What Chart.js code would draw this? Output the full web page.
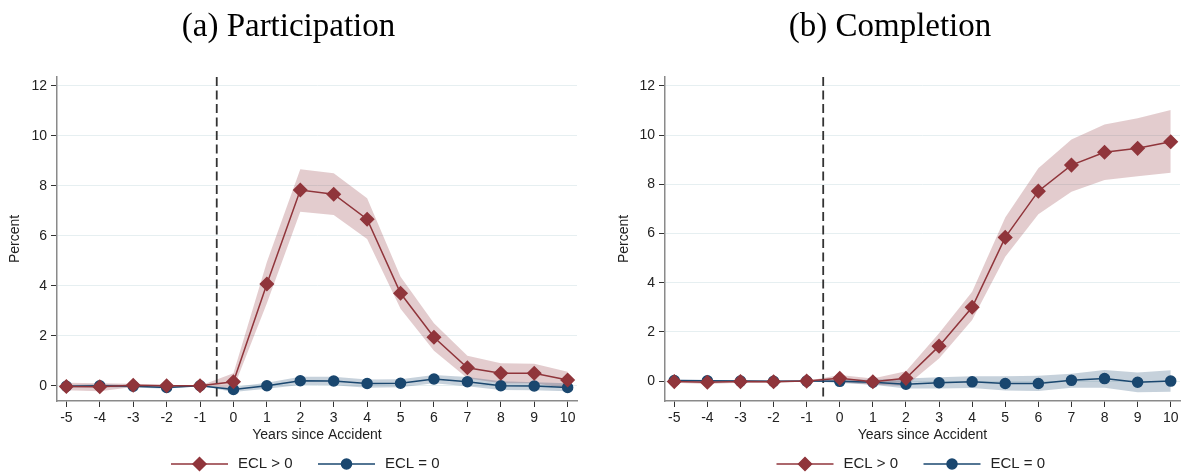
<!DOCTYPE html>
<html>
<head>
<meta charset="utf-8">
<script src="https://cdn.jsdelivr.net/npm/chart.js@4"></script>
<style>
  body { margin: 0; background: #fff; }
  #wrap { display: flex; width: 1188px; height: 475px; }
  canvas { display: block; }
</style>
</head>
<body>
<div id="wrap">
  <canvas id="partChart" width="594" height="475"></canvas>
  <canvas id="compChart" width="594" height="475"></canvas>
</div>
<script>
// 事故前后年份
var years = [-5, -4, -3, -2, -1, 0, 1, 2, 3, 4, 5, 6, 7, 8, 9, 10];
var accidentLine = -0.5;
var legendLabels = ['ECL > 0', 'ECL = 0'];

// (a) Participation
var partPos   = [-0.03, -0.04, 0.02, 0.00, 0.00, 0.16, 4.07, 7.83, 7.66, 6.66, 3.70, 1.94, 0.72, 0.50, 0.50, 0.23];
var partPosHi = [0.12, 0.10, 0.08, 0.04, 0.00, 0.50, 4.95, 8.66, 8.50, 7.50, 4.36, 2.50, 1.20, 0.90, 0.88, 0.56];
var partPosLo = [-0.18, -0.22, -0.05, -0.04, 0.00, -0.10, 3.30, 6.96, 6.83, 5.87, 3.08, 1.40, 0.30, 0.10, 0.10, -0.10];
var partZero   = [-0.02, 0.00, -0.02, -0.07, 0.00, -0.15, 0.00, 0.20, 0.19, 0.09, 0.10, 0.27, 0.16, 0.00, -0.01, -0.07];
var partZeroHi = [0.03, 0.06, 0.03, -0.02, 0.00, -0.05, 0.12, 0.36, 0.36, 0.25, 0.26, 0.43, 0.35, 0.18, 0.14, 0.10];
var partZeroLo = [-0.07, -0.06, -0.07, -0.12, 0.00, -0.25, -0.12, 0.03, 0.02, -0.08, -0.06, 0.10, -0.02, -0.17, -0.18, -0.22];

// (b) Completion
var compPos   = [-0.02, -0.05, -0.02, -0.03, 0.00, 0.11, -0.03, 0.11, 1.42, 3.00, 5.84, 7.72, 8.78, 9.30, 9.46, 9.73];
var compPosHi = [0.03, 0.02, 0.03, 0.02, 0.00, 0.25, 0.10, 0.40, 1.94, 3.63, 6.65, 8.65, 9.82, 10.43, 10.68, 11.02];
var compPosLo = [-0.07, -0.12, -0.07, -0.08, 0.00, -0.05, -0.15, -0.20, 0.92, 2.48, 5.05, 6.78, 7.70, 8.17, 8.33, 8.47];
var compZero   = [0.02, 0.01, 0.00, -0.01, 0.00, -0.01, -0.05, -0.13, -0.07, -0.03, -0.10, -0.10, 0.03, 0.10, -0.05, 0.00];
var compZeroHi = [0.05, 0.04, 0.03, 0.02, 0.00, 0.05, 0.05, 0.10, 0.16, 0.20, 0.20, 0.22, 0.30, 0.45, 0.35, 0.44];
var compZeroLo = [-0.01, -0.02, -0.03, -0.04, 0.00, -0.08, -0.15, -0.30, -0.30, -0.28, -0.38, -0.40, -0.27, -0.27, -0.45, -0.43];

var maroon = 'rgb(144, 53, 59)';
var navy = 'rgb(26, 71, 111)';
var maroonBand = 'rgba(144, 53, 59, 0.25)';
var navyBand = 'rgba(26, 71, 111, 0.25)';
var textColor = '#222';
var sans = "'Liberation Sans', Arial, sans-serif";

function pts(values) {
  return years.map(function (y, i) { return { x: y, y: values[i] }; });
}

// Stata风格图例：线段+标记+文字，以绘图区中心为基准
var stataLegend = {
  id: 'stataLegend',
  afterDraw: function (chart) {
    var ctx = chart.ctx;
    var c = (chart.chartArea.left + chart.chartArea.right) / 2;
    var y = 464;
    var items = [
      { start: c - 146, color: maroon, style: 'rectRot', radius: 6.5, text: legendLabels[0] },
      { start: c + 1, color: navy, style: 'circle', radius: 5, text: legendLabels[1] }
    ];
    ctx.save();
    items.forEach(function (it) {
      ctx.strokeStyle = it.color;
      ctx.lineWidth = 1.5;
      ctx.beginPath();
      ctx.moveTo(it.start, y);
      ctx.lineTo(it.start + 57, y);
      ctx.stroke();
      ctx.fillStyle = it.color;
      Chart.helpers.drawPoint(ctx, { pointStyle: it.style, radius: it.radius, borderWidth: 1, rotation: 0 }, it.start + 28.5, y);
      ctx.fillStyle = textColor;
      ctx.font = '15px ' + sans;
      ctx.textBaseline = 'middle';
      ctx.textAlign = 'left';
      ctx.fillText(it.text, it.start + 67, y);
    });
    ctx.restore();
  }
};

// 创建图表
function createChart(id, title, pos, posHi, posLo, zero, zeroHi, zeroLo, yMin, yMax, axisWidth, titlePad, rightPad) {
  var ctx = document.getElementById(id).getContext('2d');
  return new Chart(ctx, {
    type: 'line',
    data: {
      datasets: [
        { data: pts(posHi), fill: '+1', backgroundColor: maroonBand, borderWidth: 0, pointRadius: 0, order: 5 },
        { data: pts(posLo), fill: false, borderWidth: 0, pointRadius: 0, order: 6 },
        { data: pts(zeroHi), fill: '+1', backgroundColor: navyBand, borderWidth: 0, pointRadius: 0, order: 3 },
        { data: pts(zeroLo), fill: false, borderWidth: 0, pointRadius: 0, order: 4 },
        {
          label: legendLabels[1], data: pts(zero), borderColor: navy, backgroundColor: navy,
          borderWidth: 1.5, pointStyle: 'circle', pointRadius: 5, fill: false, tension: 0, order: 1
        },
        {
          label: legendLabels[0], data: pts(pos), borderColor: maroon, backgroundColor: maroon,
          borderWidth: 1.5, pointStyle: 'rectRot', pointRadius: 6.5, fill: false, tension: 0, order: 0
        },
        {
          // 事故发生分界线（从顶部开始画，虚线相位与原图一致）
          data: [{ x: accidentLine, y: yMax }, { x: accidentLine, y: yMin }],
          borderColor: '#333', borderWidth: 1.8, borderDash: [9, 4.5], pointRadius: 0, fill: false, order: 2
        }
      ]
    },
    options: {
      responsive: false,
      animation: false,
      layout: { padding: { left: 0, right: rightPad, top: 0, bottom: 31 } },
      plugins: {
        legend: { display: false },
        tooltip: { enabled: false },
        title: {
          display: true,
          text: title,
          color: '#000',
          font: { family: "'Liberation Serif', 'DejaVu Serif', serif", size: 33, weight: 'normal' },
          padding: { top: 7.2, bottom: 30.2 }
        }
      },
      scales: {
        x: {
          type: 'linear',
          min: -5.28,
          max: 10.28,
          afterFit: function (s) { s.height = 43; },
          border: { color: '#8a8a8a', width: 1.5 },
          grid: { drawOnChartArea: false, drawTicks: true, tickLength: 6, tickColor: '#333' },
          ticks: { stepSize: 1, includeBounds: false, autoSkip: false, maxRotation: 0, padding: 3, color: textColor, font: { family: sans, size: 14 } },
          title: { display: true, text: 'Years since Accident', color: textColor, padding: 0, font: { family: sans, size: 14 } }
        },
        y: {
          min: yMin,
          max: yMax,
          afterFit: function (s) { s.width = axisWidth; },
          border: { color: '#8a8a8a', width: 1.5 },
          grid: { color: '#e6eff1', lineWidth: 1, tickLength: 6, tickColor: '#333' },
          ticks: { stepSize: 2, includeBounds: false, padding: 4, color: textColor, font: { family: sans, size: 14 } },
          title: { display: true, text: 'Percent', color: textColor, padding: { top: titlePad, bottom: 0 }, font: { family: sans, size: 14 } }
        }
      }
    },
    plugins: [stataLegend]
  });
}

var partChart = createChart('partChart', '(a) Participation', partPos, partPosHi, partPosLo, partZero, partZeroHi, partZeroLo, -0.61, 12.35, 57, 7, 17);
var compChart = createChart('compChart', '(b) Completion', compPos, compPosHi, compPosLo, compZero, compZeroHi, compZeroLo, -0.81, 12.36, 71, 22, 2);
</script>
</body>
</html>
